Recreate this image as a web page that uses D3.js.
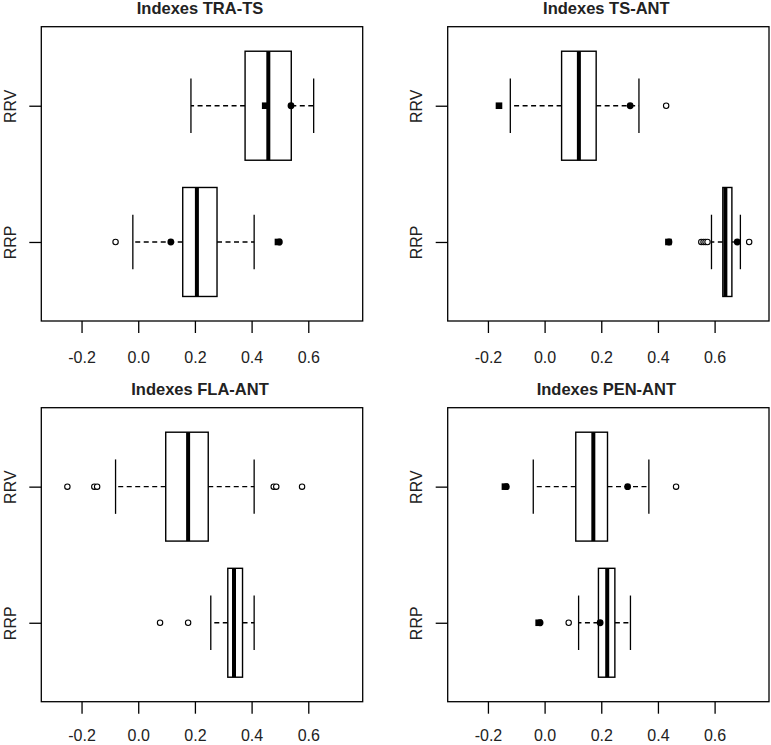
<!DOCTYPE html>
<html>
<head>
<meta charset="utf-8">
<script src="https://cdn.jsdelivr.net/npm/d3@7"></script>
<style>
  html, body { margin: 0; padding: 0; background: #fff; }
  svg { display: block; }
  text { font-family: "Liberation Sans", Arial, sans-serif; }
</style>
</head>
<body>
<svg id="chart" width="771" height="745"></svg>
<script>
// ---------- data ----------
const panelTitles = ["Indexes TRA-TS", "Indexes TS-ANT", "Indexes FLA-ANT", "Indexes PEN-ANT"];
const groups = ["RRP", "RRV"];               // RRP at position 1 (bottom), RRV at 2 (top)
const xTicks = [-0.2, 0.0, 0.2, 0.4, 0.6];
const xLimits = [-0.3, 0.75];

// [lower whisker, Q1, median, Q3, upper whisker] per panel
const statsRRP = [
  [-0.019, 0.157, 0.207, 0.278, 0.409],
  [0.589, 0.629, 0.638, 0.661, 0.691],
  [0.256, 0.316, 0.338, 0.368, 0.409],
  [0.120, 0.190, 0.221, 0.248, 0.303]
];
const statsRRV = [
  [0.186, 0.377, 0.459, 0.540, 0.619],
  [-0.121, 0.060, 0.121, 0.182, 0.333],
  [-0.080, 0.097, 0.176, 0.247, 0.409],
  [-0.040, 0.110, 0.172, 0.222, 0.368]
];
// open-circle outliers
const outliersRRP = [
  [-0.080],
  [0.553, 0.561, 0.568, 0.575, 0.722],
  [0.077, 0.176],
  [0.085]
];
const outliersRRV = [
  [],
  [0.429],
  [-0.250, -0.155, -0.145, 0.478, 0.487, 0.578],
  [0.464]
];
// filled circles
const dotsRRP = [
  [0.115, 0.498],
  [0.439, 0.680],
  [],
  [-0.016, 0.196]
];
const dotsRRV = [
  [0.539],
  [0.302],
  [],
  [-0.135, 0.293]
];
// filled squares
const squaresRRP = [
  [0.493],
  [0.437],
  [],
  [-0.021]
];
const squaresRRV = [
  [0.448],
  [-0.161],
  [],
  [-0.140]
];

// ---------- layout ----------
const svg = d3.select("#chart");
const frames = [
  {x0: 41.3, x1: 362.7, y0: 26.7, y1: 321.0, pad: 18.5},
  {x0: 447.7, x1: 769.0, y0: 26.7, y1: 321.0, pad: 18.5},
  {x0: 41.3, x1: 362.7, y0: 407.7, y1: 701.7, pad: 16.3},
  {x0: 447.7, x1: 769.0, y0: 407.7, y1: 701.7, pad: 16.3}
];
const ext = (xLimits[1] - xLimits[0]) * 0.04;
const xDomain = [xLimits[0] - ext, xLimits[1] + ext];
const yDomain = [0.5 - 0.08, 2.5 + 0.08];
const ink = "#000";
const txt = "#222";

panelTitles.forEach((title, p) => {
  const f = frames[p];
  const x = d3.scaleLinear().domain(xDomain).range([f.x0, f.x1]);
  const y = d3.scaleLinear().domain(yDomain).range([f.y1, f.y0]);
  const g = svg.append("g");

  // title
  g.append("text")
    .attr("x", (f.x0 + f.x1) / 2 - 2)
    .attr("y", f.y0 - 13)
    .attr("text-anchor", "middle")
    .attr("font-size", 16.5)
    .attr("font-weight", "bold")
    .attr("fill", txt)
    .text(title);

  // x axis
  const xa = g.append("g")
    .attr("transform", `translate(0,${f.y1})`)
    .call(d3.axisBottom(x).tickValues(xTicks).tickFormat(d3.format(".1f")).tickSize(12).tickPadding(f.pad));
  xa.select(".domain").remove();
  xa.selectAll(".tick line").attr("stroke", ink).attr("stroke-width", 1.3);
  xa.selectAll(".tick text").attr("font-size", 16).attr("fill", txt)
    .attr("font-family", "Liberation Sans, Arial, sans-serif")
    .text(d => d3.format(".1f")(d).replace("−", "-"));

  // y axis
  const ya = g.append("g")
    .attr("transform", `translate(${f.x0},0)`)
    .call(d3.axisLeft(y).tickValues([1, 2]).tickFormat(d => groups[d - 1]).tickSize(12).tickPadding(0));
  ya.select(".domain").remove();
  ya.selectAll(".tick line").attr("stroke", ink).attr("stroke-width", 1.3);
  ya.selectAll(".tick text")
    .attr("font-size", 16).attr("fill", txt)
    .attr("font-family", "Liberation Sans, Arial, sans-serif")
    .attr("text-anchor", "middle")
    .attr("dy", 0)
    .attr("x", 0).attr("y", 0)
    .attr("transform", "translate(-25.3,0) rotate(-90)");

  const statsList = [statsRRP[p], statsRRV[p]];
  const outList = [outliersRRP[p], outliersRRV[p]];
  const dotList = [dotsRRP[p], dotsRRV[p]];
  const sqList = [squaresRRP[p], squaresRRV[p]];

  statsList.forEach((s, gi) => {
    const pos = gi + 1;
    const cy = y(pos);
    const half = y(pos - 0.4) - cy;
    const staple = y(pos - 0.2) - cy;
    const [lo, q1, med, q3, hi] = s;
    // whiskers
    [[q1, lo], [q3, hi]].forEach(([a, b]) => {
      g.append("line")
        .attr("x1", x(a)).attr("x2", x(b)).attr("y1", cy).attr("y2", cy)
        .attr("stroke", ink).attr("stroke-width", 1.3)
        .attr("stroke-dasharray", "5,3.5");
      g.append("line")
        .attr("x1", x(b)).attr("x2", x(b)).attr("y1", cy - staple).attr("y2", cy + staple)
        .attr("stroke", ink).attr("stroke-width", 1.3);
    });
    // box
    g.append("rect")
      .attr("x", x(q1)).attr("y", cy - half)
      .attr("width", x(q3) - x(q1)).attr("height", 2 * half)
      .attr("fill", "#fff").attr("stroke", ink).attr("stroke-width", 1.4);
    // median
    g.append("line")
      .attr("x1", x(med)).attr("x2", x(med)).attr("y1", cy - half).attr("y2", cy + half)
      .attr("stroke", ink).attr("stroke-width", 4);
    // outliers
    g.selectAll(null).data(outList[gi]).enter().append("circle")
      .attr("cx", d => x(d)).attr("cy", cy).attr("r", 2.7)
      .attr("fill", "#fff").attr("stroke", ink).attr("stroke-width", 1.1);
    // filled squares
    g.selectAll(null).data(sqList[gi]).enter().append("rect")
      .attr("x", d => x(d) - 3.3).attr("y", cy - 3.3)
      .attr("width", 6.6).attr("height", 6.6).attr("fill", ink);
    // filled circles
    g.selectAll(null).data(dotList[gi]).enter().append("circle")
      .attr("cx", d => x(d)).attr("cy", cy).attr("r", 3.4).attr("fill", ink);
  });

  // plot frame
  g.append("rect")
    .attr("x", f.x0).attr("y", f.y0)
    .attr("width", f.x1 - f.x0).attr("height", f.y1 - f.y0)
    .attr("fill", "none").attr("stroke", ink).attr("stroke-width", 1.3);
});
</script>
</body>
</html>
